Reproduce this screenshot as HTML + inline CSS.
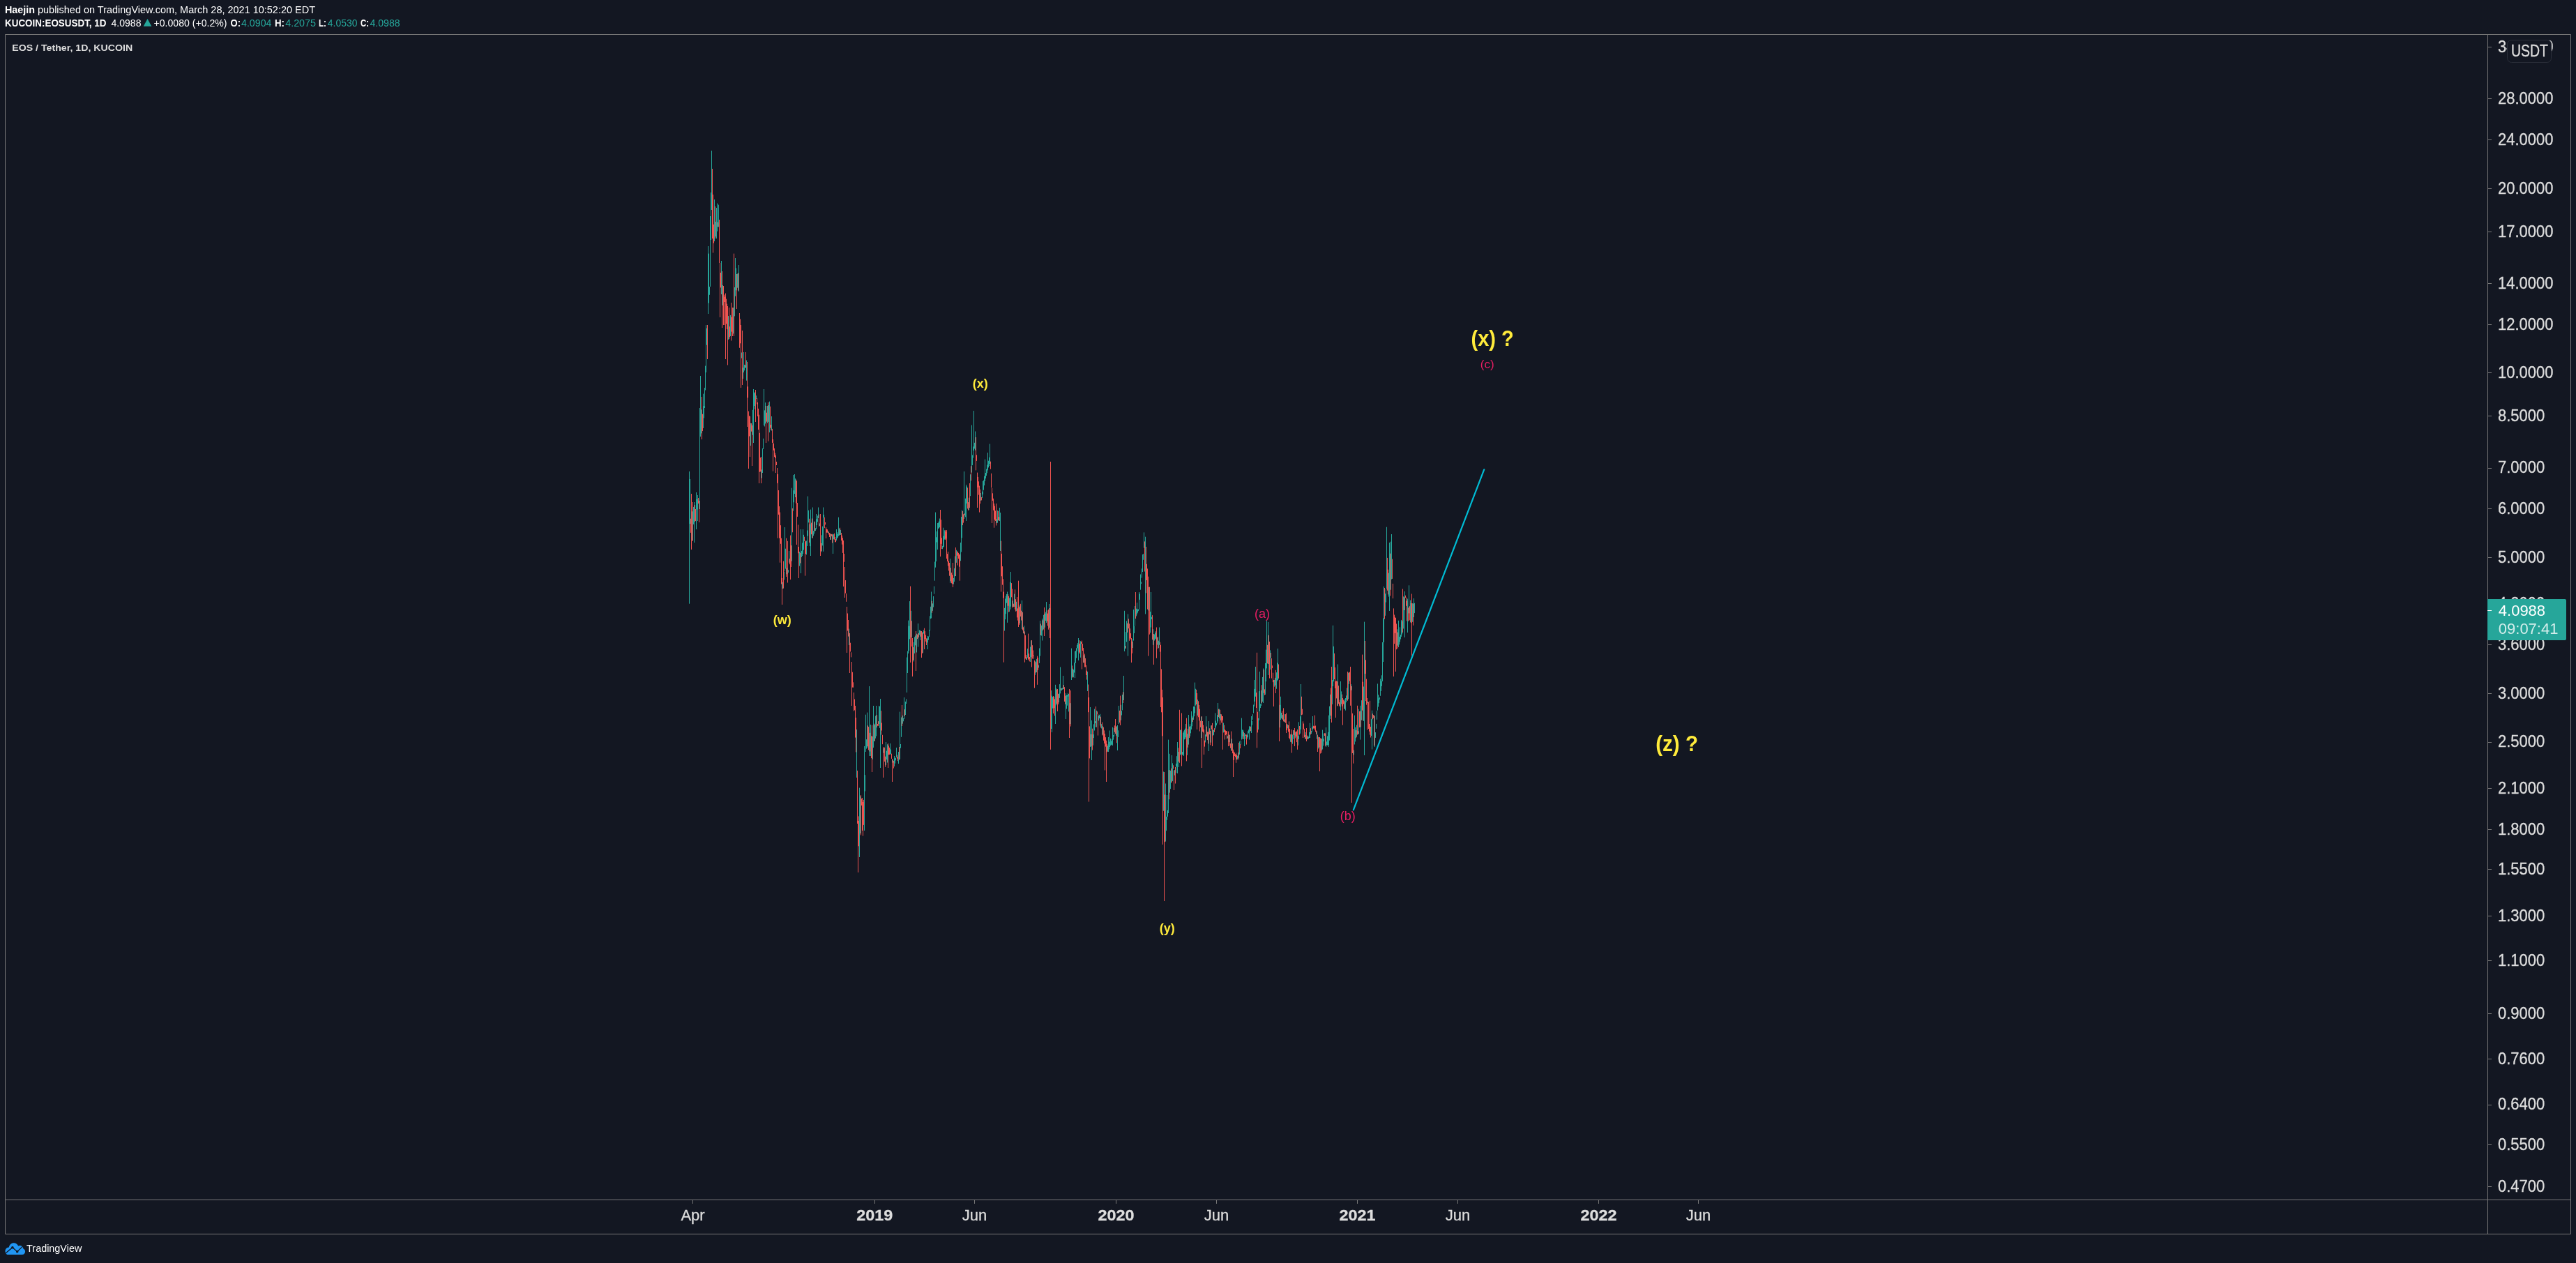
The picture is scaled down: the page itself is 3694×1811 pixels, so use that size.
<!DOCTYPE html>
<html><head><meta charset="utf-8"><style>
html,body{margin:0;padding:0;background:#131722;}
body{width:3694px;height:1811px;overflow:hidden;position:relative;}
svg{position:absolute;left:0;top:0;will-change:transform;}
text{font-family:"Liberation Sans",sans-serif;}
.ax{font-size:22px;fill:#dddddd;stroke:#dddddd;stroke-width:0.3px;}
.tx{font-size:22px;fill:#dddddd;stroke:#dddddd;stroke-width:0.3px;}
.b{font-weight:bold;}
.hd{font-size:14px;fill:#ffffff;}
</style></head><body>
<svg width="3694" height="1811" viewBox="0 0 3694 1811">
<rect width="3694" height="1811" fill="#131722"/>
<!-- frame -->
<path d="M7.5 49.5H3686.5V1769.5H7.5Z" stroke="#787878" stroke-width="1" fill="none"/>
<path d="M3567.5 50V1769" stroke="#787878" stroke-width="1"/>
<path d="M8 1720.5H3686" stroke="#787878" stroke-width="1"/>
<!-- header -->
<text x="7" y="19" class="hd" font-weight="bold" textLength="43" lengthAdjust="spacingAndGlyphs">Haejin</text>
<text x="54" y="19" class="hd" textLength="398" lengthAdjust="spacingAndGlyphs">published on TradingView.com, March 28, 2021 10:52:20 EDT</text>
<text x="7" y="38" class="hd" font-weight="bold" textLength="145.5" lengthAdjust="spacingAndGlyphs">KUCOIN:EOSUSDT, 1D</text>
<text x="159.5" y="38" class="hd" textLength="43" lengthAdjust="spacingAndGlyphs">4.0988</text>
<path d="M205.7 37.7L211.5 27L217.4 37.7Z" fill="#26a69a"/>
<text x="220.5" y="38" class="hd" textLength="105" lengthAdjust="spacingAndGlyphs">+0.0080 (+0.2%)</text>
<text x="330.5" y="38" class="hd" font-weight="bold" textLength="14.5" lengthAdjust="spacingAndGlyphs">O:</text><text x="346" y="38" class="hd" style="fill:#26a69a" textLength="43.5" lengthAdjust="spacingAndGlyphs">4.0904</text>
<text x="394" y="38" class="hd" font-weight="bold" textLength="14" lengthAdjust="spacingAndGlyphs">H:</text><text x="409.2" y="38" class="hd" style="fill:#26a69a" textLength="43.8" lengthAdjust="spacingAndGlyphs">4.2075</text>
<text x="457" y="38" class="hd" font-weight="bold" textLength="11" lengthAdjust="spacingAndGlyphs">L:</text><text x="469.8" y="38" class="hd" style="fill:#26a69a" textLength="42.7" lengthAdjust="spacingAndGlyphs">4.0530</text>
<text x="517" y="38" class="hd" font-weight="bold" textLength="12" lengthAdjust="spacingAndGlyphs">C:</text><text x="530.4" y="38" class="hd" style="fill:#26a69a" textLength="43.3" lengthAdjust="spacingAndGlyphs">4.0988</text>
<text x="17.2" y="72.7" font-size="13.5px" font-weight="bold" fill="#dddddd" textLength="173" lengthAdjust="spacingAndGlyphs">EOS / Tether, 1D, KUCOIN</text>
<!-- candles -->
<path d="M988.5 676.0V865.7M989.5 687.0V751.0M992.5 733.3V775.0M994.5 726.9V751.9M995.5 720.0V778.0M998.5 706.0V759.0M999.5 716.0V730.5M1000.5 710.0V747.0M1003.5 585.0V730.0M1004.5 539.0V626.0M1005.5 587.3V621.4M1008.5 564.6V614.0M1009.5 582.2V599.5M1010.5 556.0V585.0M1011.5 524.6V559.5M1012.5 466.0V534.0M1013.5 470.7V494.7M1015.5 353.0V450.0M1016.5 363.6V434.6M1017.5 411.1V422.8M1018.5 310.0V411.0M1019.5 276.0V344.0M1020.5 216.0V301.0M1024.5 286.0V346.0M1026.5 317.9V339.2M1027.5 298.0V342.0M1028.5 291.6V331.7M1030.5 293.6V325.5M1034.5 374.0V422.0M1036.5 408.9V437.9M1044.5 453.1V487.0M1047.5 451.9V482.1M1051.5 441.1V478.4M1053.5 412.0V453.4M1054.5 370.0V424.7M1055.5 384.4V416.3M1057.5 392.5V412.7M1059.5 380.0V418.0M1063.5 505.5V513.6M1065.5 527.2V543.0M1066.5 505.0V534.0M1067.5 522.9V531.3M1068.5 523.5V527.3M1070.5 516.6V545.7M1076.5 606.8V639.1M1079.5 587.7V623.7M1080.5 558.0V635.0M1081.5 563.5V582.0M1082.5 562.3V586.9M1084.5 567.2V571.8M1092.5 673.4V685.5M1093.5 643.0V678.0M1094.5 628.8V644.0M1095.5 558.0V610.0M1096.5 588.4V611.5M1097.5 577.2V607.4M1100.5 581.9V606.6M1102.5 581.1V604.9M1103.5 575.7V620.0M1106.5 597.0V617.5M1122.5 834.8V844.1M1124.5 819.5V831.4M1125.5 756.0V819.0M1126.5 786.7V815.5M1128.5 814.5V823.3M1130.5 817.2V821.1M1131.5 790.0V806.7M1135.5 699.7V804.6M1137.5 681.0V732.6M1138.5 703.2V720.3M1139.5 680.0V708.0M1140.5 686.1V713.0M1146.5 791.0V811.6M1148.5 759.0V822.0M1149.5 789.9V799.0M1150.5 778.3V797.1M1151.5 759.0V794.0M1152.5 766.8V788.6M1156.5 775.5V795.3M1157.5 760.5V782.9M1158.5 711.6V768.6M1159.5 731.7V749.3M1161.5 751.6V783.1M1162.5 730.6V797.0M1165.5 727.5V771.8M1166.5 761.1V768.2M1167.5 747.5V765.3M1169.5 757.2V761.1M1170.5 737.0V759.0M1171.5 744.2V753.0M1172.5 739.4V748.3M1173.5 727.5V743.0M1175.5 750.5V754.0M1178.5 767.3V791.5M1179.5 754.7V782.3M1180.5 727.5V790.8M1181.5 737.9V742.2M1187.5 761.7V764.1M1191.5 765.9V774.0M1194.5 765.4V794.0M1195.5 766.2V773.3M1199.5 759.0V775.0M1200.5 763.2V772.0M1201.5 765.9V770.7M1202.5 741.7V768.6M1203.5 757.8V767.9M1205.5 759.8V766.9M1217.5 901.6V925.0M1228.5 1046.0V1115.0M1232.5 1129.6V1229.0M1233.5 1141.9V1195.1M1239.5 1070.0V1191.0M1240.5 1111.2V1134.5M1241.5 1024.7V1078.0M1242.5 1060.2V1073.6M1243.5 1021.6V1072.0M1246.5 984.0V1084.0M1248.5 1039.0V1084.0M1251.5 1055.8V1088.7M1252.5 1012.0V1072.0M1254.5 1039.4V1062.9M1255.5 1026.5V1058.8M1256.5 1012.0V1055.6M1260.5 1012.0V1038.0M1261.5 1012.9V1043.9M1262.5 1002.0V1101.0M1267.5 1072.9V1079.7M1270.5 1064.0V1097.0M1271.5 1076.6V1089.1M1272.5 1067.3V1093.5M1276.5 1066.0V1082.0M1277.5 1074.5V1081.2M1280.5 1089.5V1093.6M1282.5 1084.0V1099.0M1283.5 1087.1V1094.7M1284.5 1086.4V1090.3M1285.5 1072.0V1086.0M1288.5 1078.0V1095.0M1290.5 1020.6V1088.5M1291.5 1067.0V1072.7M1292.5 1028.6V1056.8M1294.5 1025.9V1037.7M1295.5 1030.0V1034.3M1296.5 1000.0V1031.0M1298.5 1006.0V1025.0M1299.5 1002.4V1009.0M1300.5 942.6V993.0M1301.5 933.6V965.0M1302.5 889.6V937.0M1303.5 897.7V933.3M1304.5 862.1V916.4M1306.5 875.8V913.7M1310.5 920.8V948.6M1311.5 913.4V936.9M1312.5 911.4V925.4M1314.5 908.7V935.5M1316.5 894.0V927.6M1318.5 903.5V910.4M1319.5 903.8V917.9M1323.5 905.9V936.0M1324.5 903.5V908.6M1329.5 915.4V921.4M1330.5 912.0V931.0M1331.5 912.5V917.7M1332.5 903.2V913.2M1333.5 883.3V904.3M1334.5 869.8V887.1M1335.5 848.5V886.5M1337.5 865.3V875.9M1338.5 855.0V870.6M1339.5 840.6V851.6M1340.5 805.5V832.7M1341.5 734.6V813.7M1342.5 770.3V805.0M1343.5 762.0V777.5M1344.5 750.0V788.0M1345.5 749.5V758.0M1346.5 747.5V757.4M1347.5 743.5V756.1M1351.5 782.8V787.2M1352.5 756.7V785.0M1353.5 768.5V784.1M1354.5 760.3V773.6M1362.5 801.0V836.0M1367.5 828.8V837.6M1368.5 814.9V834.0M1369.5 797.5V826.3M1371.5 788.7V806.8M1377.5 778.0V804.2M1378.5 741.0V791.5M1379.5 731.3V771.3M1382.5 676.0V744.0M1384.5 714.7V741.4M1385.5 695.0V747.0M1386.5 697.5V721.8M1389.5 713.7V731.4M1391.5 680.2V711.2M1393.5 609.6V677.6M1394.5 652.5V667.1M1395.5 640.4V656.5M1396.5 589.0V646.0M1397.5 634.8V643.4M1398.5 618.5V645.7M1406.5 707.0V717.8M1408.5 704.7V714.1M1409.5 690.0V709.0M1410.5 688.7V702.7M1411.5 682.7V696.1M1412.5 658.6V690.0M1413.5 678.0V686.1M1414.5 672.6V682.2M1415.5 666.5V678.3M1416.5 649.0V674.4M1417.5 660.7V670.4M1418.5 655.8V668.1M1419.5 636.5V665.0M1429.5 744.2V750.2M1430.5 732.0V749.7M1433.5 728.0V747.0M1434.5 735.0V790.0M1440.5 871.8V904.5M1441.5 858.5V888.1M1442.5 854.6V880.2M1443.5 851.9V864.7M1444.5 848.5V892.8M1447.5 857.4V877.1M1448.5 834.7V869.7M1449.5 820.0V873.8M1452.5 861.4V869.9M1454.5 851.6V870.0M1457.5 862.8V876.2M1462.5 868.2V893.9M1465.5 861.0V902.0M1468.5 897.2V908.9M1472.5 942.4V946.0M1473.5 930.1V943.2M1477.5 927.5V949.0M1478.5 918.4V942.2M1484.5 948.3V967.8M1486.5 944.9V964.0M1489.5 953.7V957.5M1490.5 929.5V950.9M1491.5 890.0V940.6M1493.5 896.8V911.5M1494.5 887.0V918.5M1496.5 881.8V902.5M1498.5 879.9V899.8M1499.5 877.7V890.0M1500.5 863.0V893.0M1504.5 866.0V900.0M1507.5 990.0V1045.0M1508.5 997.6V1050.0M1509.5 999.3V1015.7M1513.5 981.8V1038.0M1514.5 987.1V1011.3M1518.5 994.4V1007.2M1519.5 981.1V1000.8M1520.5 956.5V994.4M1522.5 986.8V990.3M1523.5 986.3V988.9M1524.5 969.0V988.0M1528.5 994.0V1031.0M1529.5 996.6V1016.4M1530.5 996.6V1011.7M1531.5 993.8V998.6M1532.5 995.0V1020.4M1534.5 1008.2V1038.2M1536.5 929.6V975.0M1538.5 958.7V970.6M1539.5 960.2V971.3M1540.5 950.1V964.5M1541.5 934.0V972.0M1542.5 933.1V950.8M1543.5 929.3V943.5M1544.5 924.7V933.8M1545.5 922.1V929.5M1546.5 915.0V947.0M1549.5 919.3V942.9M1554.5 939.6V950.4M1559.5 963.0V991.0M1563.5 1014.0V1071.0M1565.5 1033.0V1090.0M1567.5 1053.1V1068.8M1568.5 1038.4V1058.1M1569.5 1016.6V1047.5M1570.5 1034.1V1037.1M1572.5 1018.9V1042.7M1575.5 1026.1V1033.4M1576.5 1025.2V1030.1M1577.5 1023.8V1040.4M1579.5 1038.2V1044.5M1581.5 1041.3V1053.5M1588.5 1069.3V1077.7M1589.5 1057.0V1078.0M1590.5 1063.6V1074.3M1591.5 1047.5V1071.0M1592.5 1058.9V1069.2M1593.5 1062.5V1068.4M1594.5 1059.7V1067.7M1595.5 1042.8V1069.0M1596.5 1054.0V1060.7M1597.5 1043.8V1056.2M1600.5 1041.3V1054.8M1602.5 1040.0V1076.0M1603.5 1047.3V1057.0M1604.5 1012.0V1038.0M1607.5 1010.7V1032.8M1608.5 1019.2V1025.6M1609.5 996.0V1018.4M1611.5 969.0V1004.0M1612.5 875.8V934.0M1614.5 906.2V930.2M1615.5 890.3V920.4M1617.5 880.5V940.6M1624.5 916.6V929.0M1625.5 874.0V918.5M1626.5 897.7V908.0M1627.5 869.0V897.5M1629.5 872.7V883.5M1630.5 864.2V881.0M1631.5 873.7V878.6M1632.5 873.5V876.2M1633.5 849.0V874.0M1634.5 851.4V859.9M1635.5 823.5V845.7M1636.5 834.3V837.1M1637.5 815.3V828.6M1638.5 795.0V820.0M1639.5 794.2V802.8M1640.5 763.4V785.6M1642.5 769.7V880.5M1647.5 841.8V875.4M1649.5 877.1V907.4M1650.5 849.0V899.5M1651.5 884.7V888.0M1653.5 902.2V924.8M1655.5 909.5V918.5M1656.5 907.3V915.7M1657.5 905.1V916.8M1659.5 914.1V924.6M1661.5 918.7V929.1M1662.5 899.5V924.8M1668.5 1106.5V1162.8M1671.5 1123.5V1206.6M1672.5 1171.0V1191.2M1673.5 1140.0V1175.8M1674.5 1161.9V1170.9M1675.5 1060.6V1166.0M1677.5 1080.8V1136.6M1678.5 1104.9V1131.2M1680.5 1083.0V1121.0M1681.5 1094.4V1120.0M1684.5 1104.1V1111.7M1686.5 1094.9V1108.2M1687.5 1084.2V1099.4M1688.5 1064.0V1109.0M1690.5 1078.0V1100.0M1692.5 1046.9V1082.7M1693.5 1046.3V1081.5M1695.5 1078.1V1082.4M1696.5 1050.7V1082.4M1697.5 1048.6V1084.0M1698.5 1046.6V1060.3M1699.5 1044.6V1059.8M1700.5 1038.0V1057.3M1702.5 1052.2V1082.8M1704.5 1025.0V1067.6M1706.5 1038.3V1055.8M1707.5 1041.4V1051.4M1708.5 1020.0V1046.0M1709.5 1026.5V1041.3M1711.5 1013.0V1032.0M1712.5 1013.3V1027.2M1713.5 978.6V1022.5M1714.5 987.7V1011.6M1717.5 1003.2V1026.0M1722.5 1027.7V1058.0M1728.5 1053.2V1064.5M1729.5 1027.0V1055.8M1733.5 1034.0V1077.0M1736.5 1040.3V1064.7M1739.5 1046.3V1054.8M1740.5 1046.9V1053.9M1742.5 1022.5V1046.0M1743.5 1033.4V1043.1M1744.5 1036.7V1040.2M1745.5 1025.1V1037.3M1746.5 1008.0V1034.4M1748.5 1016.6V1030.2M1750.5 1023.9V1033.1M1754.5 1036.5V1050.4M1760.5 1055.4V1058.6M1762.5 1053.5V1064.1M1766.5 1059.4V1076.0M1774.5 1083.6V1089.0M1775.5 1078.9V1086.7M1777.5 1063.2V1081.9M1779.5 1061.9V1067.6M1780.5 1029.6V1060.5M1781.5 1046.4V1059.7M1782.5 1046.7V1055.8M1784.5 1051.0V1070.0M1785.5 1053.5V1059.9M1788.5 1053.5V1059.2M1789.5 1048.3V1057.1M1790.5 1046.2V1051.5M1791.5 1041.5V1060.5M1792.5 1041.0V1049.1M1794.5 1027.0V1051.0M1795.5 1033.8V1039.7M1796.5 1024.2V1032.0M1797.5 1010.5V1022.5M1798.5 975.0V1013.0M1799.5 987.9V1005.9M1800.5 956.0V998.8M1804.5 1029.8V1046.2M1805.5 991.1V1032.9M1806.5 963.0V1020.0M1807.5 1009.3V1015.1M1808.5 990.0V1012.1M1810.5 970.9V1006.2M1811.5 958.4V1008.0M1814.5 951.0V996.0M1815.5 931.6V977.2M1816.5 889.5V958.4M1818.5 892.0V968.0M1821.5 932.4V960.1M1827.5 974.9V984.7M1828.5 971.9V982.6M1830.5 964.2V987.7M1831.5 950.4V976.7M1832.5 930.0V975.0M1835.5 1010.8V1043.2M1836.5 998.8V1032.0M1837.5 1022.0V1029.8M1839.5 1025.1V1032.0M1842.5 1024.1V1035.6M1846.5 1038.9V1044.3M1850.5 1053.1V1063.8M1853.5 1053.4V1066.7M1854.5 1047.0V1059.7M1857.5 1049.9V1058.5M1861.5 1055.2V1068.9M1862.5 1035.3V1059.7M1864.5 1027.2V1051.8M1865.5 981.0V1046.0M1872.5 1049.9V1059.7M1875.5 1054.5V1060.2M1876.5 1056.3V1059.4M1877.5 1050.0V1058.2M1878.5 1036.8V1058.0M1880.5 1048.0V1052.0M1881.5 1041.9V1049.0M1882.5 1027.0V1046.0M1888.5 1048.4V1059.6M1890.5 1056.6V1073.4M1894.5 1059.3V1076.2M1896.5 1046.6V1074.5M1897.5 1059.3V1069.4M1898.5 1051.7V1063.2M1901.5 1043.0V1071.0M1902.5 1063.4V1068.6M1903.5 1055.4V1068.7M1904.5 1049.9V1068.4M1905.5 1025.7V1071.0M1906.5 1012.7V1061.7M1907.5 995.8V1031.0M1910.5 975.1V1010.0M1911.5 896.8V984.0M1912.5 926.8V977.2M1918.5 952.5V1011.8M1922.5 977.0V1018.7M1923.5 991.4V1009.5M1928.5 1002.7V1016.6M1929.5 1001.0V1018.7M1930.5 997.4V1007.1M1931.5 986.4V1003.5M1933.5 964.6V1002.5M1937.5 981.2V989.8M1941.5 1075.7V1082.4M1942.5 1025.7V1067.5M1943.5 1042.9V1063.4M1945.5 1039.6V1056.6M1948.5 1016.6V1052.9M1950.5 1011.8V1060.6M1952.5 1004.2V1032.7M1955.5 984.5V1033.9M1956.5 891.6V1083.0M1961.5 1005.9V1008.1M1966.5 1030.8V1055.2M1967.5 1018.7V1074.5M1971.5 1025.7V1071.0M1972.5 1050.1V1057.9M1973.5 1037.9V1044.8M1974.5 1019.1V1031.8M1975.5 980.4V1018.7M1976.5 996.2V1013.5M1977.5 1001.3V1008.2M1978.5 999.7V1003.0M1979.5 973.4V997.8M1980.5 976.6V990.9M1981.5 968.3V983.9M1982.5 921.0V977.0M1983.5 886.4V949.0M1984.5 841.0V921.0M1986.5 851.2V882.8M1987.5 845.0V863.6M1988.5 755.7V844.5M1991.5 821.6V855.6M1992.5 778.0V876.0M1994.5 776.7V845.7M1995.5 766.0V830.6M2003.5 902.3V925.7M2005.5 889.8V928.0M2006.5 913.0V924.3M2007.5 899.3V920.3M2008.5 910.1V916.6M2009.5 888.9V912.9M2010.5 890.6V909.5M2012.5 855.3V901.4M2014.5 848.0V914.0M2018.5 858.5V907.0M2020.5 839.3V879.4M2022.5 860.7V892.3M2025.5 865.1V891.8M2027.5 858.0V885.0M2028.5 864.8V879.1" stroke="#26a69a" stroke-width="1" fill="none"/><path d="M990.5 743.7V763.9M991.5 708.0V788.0M993.5 720.0V776.0M996.5 724.2V748.1M997.5 730.0V747.0M1001.5 714.0V722.0M1002.5 718.0V749.0M1006.5 569.0V630.0M1007.5 593.7V618.1M1014.5 466.0V515.0M1021.5 242.0V342.0M1022.5 279.0V362.5M1023.5 321.8V348.6M1025.5 296.0V342.0M1029.5 318.6V325.1M1031.5 315.0V377.0M1032.5 377.0V455.0M1033.5 391.0V412.4M1035.5 389.0V470.0M1037.5 410.0V466.0M1038.5 422.6V466.0M1039.5 425.5V433.0M1040.5 420.6V515.0M1041.5 428.6V464.4M1042.5 435.6V472.1M1043.5 439.0V523.5M1045.5 441.0V486.0M1046.5 468.2V483.3M1048.5 434.0V488.5M1049.5 454.7V475.6M1050.5 441.0V482.0M1052.5 363.6V482.0M1056.5 393.0V443.0M1058.5 391.5V416.6M1060.5 449.0V498.8M1061.5 457.5V492.3M1062.5 466.0V556.0M1064.5 474.0V552.0M1069.5 505.0V527.6M1071.5 519.0V612.0M1072.5 554.3V570.3M1073.5 589.6V672.0M1074.5 596.2V625.5M1075.5 597.0V655.0M1077.5 607.0V618.7M1078.5 610.0V668.0M1083.5 559.0V605.0M1085.5 571.0V579.6M1086.5 577.0V597.0M1087.5 585.9V616.1M1088.5 594.7V693.0M1089.5 620.8V676.7M1090.5 656.1V676.3M1091.5 655.0V693.0M1098.5 582.0V635.0M1099.5 591.7V604.6M1101.5 577.0V632.7M1104.5 582.8V613.5M1105.5 609.0V616.7M1107.5 614.9V634.9M1108.5 630.0V675.7M1109.5 635.8V645.8M1110.5 642.9V655.0M1111.5 649.6V656.8M1112.5 653.0V678.0M1113.5 662.0V667.0M1114.5 671.0V692.8M1115.5 680.0V771.7M1116.5 703.0V737.9M1117.5 726.0V771.7M1118.5 734.6V806.7M1119.5 753.2V779.8M1120.5 771.7V837.5M1121.5 829.0V867.0M1123.5 804.6V843.7M1127.5 771.7V827.0M1129.5 775.8V835.5M1132.5 801.0V809.2M1133.5 767.6V831.0M1134.5 782.1V813.0M1136.5 728.9V763.3M1141.5 687.6V721.6M1142.5 689.5V781.0M1143.5 721.0V740.9M1144.5 752.5V793.3M1145.5 784.0V829.0M1147.5 792.7V807.5M1153.5 769.7V775.8M1154.5 775.0V825.6M1155.5 776.3V794.4M1160.5 743.8V778.0M1163.5 749.6V766.2M1164.5 743.5V771.5M1168.5 748.3V761.5M1174.5 737.6V755.0M1176.5 737.0V797.0M1177.5 778.9V790.2M1182.5 741.8V757.2M1183.5 748.9V752.3M1184.5 756.0V772.0M1185.5 758.5V763.7M1186.5 759.2V763.7M1188.5 762.4V766.5M1189.5 764.0V770.0M1190.5 764.9V773.8M1192.5 765.9V769.1M1193.5 766.3V778.5M1196.5 764.8V773.7M1197.5 770.0V777.5M1198.5 773.1V777.2M1204.5 756.7V767.0M1206.5 764.0V775.0M1207.5 767.7V780.7M1208.5 771.3V792.9M1209.5 775.0V841.0M1210.5 794.0V805.7M1211.5 813.0V857.0M1212.5 832.0V850.7M1213.5 851.0V862.8M1214.5 870.0V936.0M1215.5 879.5V904.4M1216.5 889.0V912.6M1218.5 908.0V965.0M1219.5 921.7V934.4M1220.5 935.3V942.4M1221.5 949.0V1012.0M1222.5 963.7V985.7M1223.5 978.3V985.8M1224.5 993.0V1019.5M1225.5 1002.5V1018.4M1226.5 1012.0V1057.6M1227.5 1029.0V1078.5M1229.5 1105.0V1181.0M1230.5 1177.0V1251.0M1231.5 1170.4V1213.3M1234.5 1140.0V1197.5M1235.5 1145.0V1155.0M1236.5 1144.0V1191.0M1237.5 1150.0V1198.6M1238.5 1146.9V1182.9M1244.5 1040.3V1070.2M1245.5 1042.1V1075.4M1247.5 1050.8V1077.5M1249.5 1055.4V1087.1M1250.5 1040.0V1107.0M1253.5 1037.7V1062.8M1257.5 1025.2V1043.2M1258.5 1038.0V1040.8M1259.5 1034.2V1040.8M1263.5 1019.2V1053.6M1264.5 1036.5V1047.5M1265.5 1053.8V1067.2M1266.5 1071.0V1115.0M1268.5 1071.7V1092.1M1269.5 1084.7V1099.7M1273.5 1066.0V1101.0M1274.5 1069.3V1082.2M1275.5 1071.9V1082.0M1278.5 1080.7V1087.9M1279.5 1088.0V1121.0M1281.5 1090.9V1101.7M1286.5 1082.4V1087.7M1287.5 1085.7V1091.2M1289.5 1071.0V1089.6M1293.5 1011.0V1041.0M1297.5 1017.2V1026.7M1305.5 840.6V950.0M1307.5 890.2V927.0M1308.5 915.0V970.0M1309.5 928.1V946.7M1313.5 905.0V962.0M1315.5 909.7V916.2M1317.5 907.9V914.1M1320.5 904.9V912.8M1321.5 905.0V943.0M1322.5 907.0V937.0M1325.5 900.7V931.0M1326.5 905.1V916.0M1327.5 910.5V919.8M1328.5 915.4V925.0M1336.5 861.8V878.7M1348.5 731.0V798.0M1349.5 745.3V779.8M1350.5 771.3V787.1M1355.5 760.1V774.1M1356.5 762.2V772.4M1357.5 760.0V801.0M1358.5 794.1V805.1M1359.5 791.0V811.4M1360.5 804.4V818.4M1361.5 807.0V825.7M1363.5 814.1V833.5M1364.5 821.1V836.3M1365.5 824.4V837.4M1366.5 807.0V842.0M1370.5 785.0V826.0M1372.5 790.3V796.7M1373.5 791.5V810.6M1374.5 792.8V801.1M1375.5 795.1V812.7M1376.5 794.7V832.7M1380.5 732.9V753.1M1381.5 737.3V749.6M1383.5 736.4V738.9M1387.5 699.3V729.3M1388.5 720.1V731.8M1390.5 693.0V728.0M1392.5 668.3V689.3M1399.5 627.0V674.4M1400.5 652.3V660.9M1401.5 677.6V728.0M1402.5 683.9V698.8M1403.5 690.3V709.6M1404.5 696.6V734.6M1405.5 701.8V722.2M1407.5 712.9V717.4M1420.5 661.7V672.7M1421.5 678.8V699.4M1422.5 700.0V750.0M1423.5 707.3V717.9M1424.5 714.8V731.7M1425.5 722.0V756.7M1426.5 725.5V745.2M1427.5 732.3V747.0M1428.5 722.0V753.5M1431.5 732.8V746.0M1432.5 741.2V746.9M1435.5 775.7V848.5M1436.5 793.9V826.3M1437.5 812.1V838.6M1438.5 830.3V857.5M1439.5 848.5V949.7M1445.5 852.1V868.7M1446.5 854.8V877.7M1450.5 836.1V856.3M1451.5 844.5V871.3M1453.5 865.7V870.3M1455.5 845.3V873.8M1456.5 859.2V876.7M1458.5 856.0V885.4M1459.5 872.4V889.7M1460.5 832.7V899.0M1461.5 870.3V896.0M1463.5 865.8V884.0M1464.5 875.7V889.6M1466.5 877.8V903.6M1467.5 899.3V908.1M1469.5 905.4V949.7M1470.5 910.9V944.4M1471.5 939.0V946.0M1474.5 908.6V946.6M1475.5 937.2V945.1M1476.5 942.0V948.4M1479.5 918.0V956.5M1480.5 925.2V944.5M1481.5 932.5V941.0M1482.5 939.8V944.7M1483.5 947.0V986.5M1485.5 949.4V964.5M1487.5 940.6V981.8M1488.5 943.0V960.8M1492.5 894.4V910.9M1495.5 889.4V904.0M1497.5 871.0V912.0M1501.5 875.2V890.6M1502.5 879.6V897.3M1503.5 874.0V902.7M1505.5 872.0V915.0M1506.5 662.0V1074.8M1510.5 998.0V1023.1M1511.5 999.1V1015.4M1512.5 1002.4V1026.4M1515.5 988.6V1009.0M1516.5 988.0V1020.0M1517.5 995.0V1010.1M1521.5 986.9V989.5M1525.5 982.1V988.3M1526.5 985.2V1006.0M1527.5 997.6V1009.8M1533.5 988.0V1058.0M1535.5 990.0V1041.6M1537.5 954.4V971.7M1547.5 918.1V935.5M1548.5 922.9V937.4M1550.5 920.3V923.2M1551.5 918.5V959.6M1552.5 923.2V933.0M1553.5 929.1V950.3M1555.5 937.5V956.5M1556.5 943.9V956.5M1557.5 953.9V967.9M1558.5 961.6V974.6M1560.5 981.5V1021.2M1561.5 1000.0V1149.6M1562.5 1041.4V1087.4M1564.5 1052.8V1070.2M1566.5 1044.7V1075.6M1571.5 1013.0V1042.8M1573.5 1020.2V1024.1M1574.5 1023.8V1054.6M1578.5 1027.7V1043.4M1580.5 1035.6V1054.6M1582.5 1042.8V1061.8M1583.5 1047.4V1066.1M1584.5 1052.0V1104.5M1585.5 1057.2V1070.6M1586.5 1061.8V1121.0M1587.5 1066.8V1078.3M1598.5 1040.3V1049.7M1599.5 1031.0V1052.0M1601.5 1041.6V1065.3M1605.5 1018.9V1036.1M1606.5 997.6V1040.0M1610.5 992.3V1008.0M1613.5 926.1V929.7M1616.5 893.8V906.9M1618.5 887.4V901.2M1619.5 894.3V918.8M1620.5 901.2V915.4M1621.5 908.1V916.9M1622.5 915.0V950.0M1623.5 919.8V936.8M1628.5 849.0V887.0M1641.5 776.4V819.5M1643.5 784.0V850.4M1644.5 808.8V832.0M1645.5 815.4V873.7M1646.5 826.7V940.6M1648.5 841.6V909.7M1652.5 882.1V917.2M1654.5 909.0V953.0M1658.5 899.5V943.8M1660.5 912.9V930.3M1663.5 920.8V934.6M1664.5 924.8V1014.0M1665.5 959.4V1021.3M1666.5 988.9V1055.4M1667.5 1000.0V1211.0M1669.5 1107.0V1292.0M1670.5 1139.5V1207.2M1676.5 1104.2V1146.2M1679.5 1101.7V1122.9M1682.5 1097.3V1102.4M1683.5 1104.5V1133.0M1685.5 1100.0V1123.5M1689.5 1072.4V1092.0M1691.5 1017.8V1093.8M1694.5 1022.5V1098.5M1701.5 1029.6V1091.4M1703.5 1044.9V1071.8M1705.5 1041.7V1058.0M1710.5 1028.9V1035.1M1715.5 988.9V1010.0M1716.5 994.0V1046.0M1718.5 1005.3V1028.3M1719.5 1011.0V1033.3M1720.5 1016.6V1048.6M1721.5 1033.6V1042.9M1723.5 1027.0V1101.0M1724.5 1034.0V1049.2M1725.5 1039.7V1050.4M1726.5 1046.0V1082.0M1727.5 1061.7V1070.6M1730.5 1041.7V1056.4M1731.5 1049.4V1061.1M1732.5 1049.3V1066.4M1734.5 1044.3V1053.1M1735.5 1048.0V1068.4M1737.5 1040.1V1045.8M1738.5 1036.8V1070.0M1741.5 1044.2V1049.7M1747.5 1016.7V1028.1M1749.5 1017.8V1039.0M1751.5 1024.3V1036.4M1752.5 1026.9V1032.8M1753.5 1027.0V1074.8M1755.5 1039.7V1049.8M1756.5 1046.0V1060.5M1757.5 1047.4V1054.2M1758.5 1048.0V1053.1M1759.5 1048.5V1059.6M1761.5 1048.6V1070.0M1763.5 1053.7V1069.4M1764.5 1066.1V1072.7M1765.5 1048.6V1077.0M1767.5 1066.1V1080.2M1768.5 1074.8V1114.0M1769.5 1077.7V1089.8M1770.5 1079.1V1084.0M1771.5 1081.3V1085.5M1772.5 1079.5V1093.8M1773.5 1082.1V1089.2M1776.5 1065.0V1089.0M1778.5 1067.2V1073.1M1783.5 1049.3V1059.9M1786.5 1053.1V1055.1M1787.5 1053.4V1067.6M1793.5 1042.0V1048.2M1801.5 993.1V1015.0M1802.5 935.8V1072.4M1803.5 1020.7V1050.4M1809.5 982.2V1007.9M1812.5 960.2V993.7M1813.5 988.4V996.8M1817.5 924.8V951.4M1819.5 910.8V952.1M1820.5 920.0V972.6M1822.5 936.0V943.2M1823.5 944.0V972.6M1824.5 954.3V958.1M1825.5 964.7V978.2M1826.5 975.0V1013.0M1829.5 960.8V994.0M1833.5 952.5V972.9M1834.5 975.0V1063.0M1838.5 1019.4V1031.0M1840.5 1015.4V1034.4M1841.5 1031.5V1034.9M1843.5 1024.1V1036.6M1844.5 1022.5V1051.0M1845.5 1038.1V1047.1M1847.5 1040.0V1049.3M1848.5 1034.4V1058.0M1849.5 1045.0V1060.1M1851.5 1052.9V1064.4M1852.5 1046.0V1079.5M1855.5 1047.2V1053.9M1856.5 1044.0V1070.0M1858.5 1048.2V1056.2M1859.5 1049.0V1064.1M1860.5 1046.0V1074.8M1863.5 1041.0V1053.4M1866.5 998.8V1025.2M1867.5 1016.6V1024.6M1868.5 1034.4V1058.0M1869.5 1037.5V1045.8M1870.5 1044.9V1057.2M1871.5 1053.8V1059.6M1873.5 1044.0V1063.0M1874.5 1055.8V1059.8M1879.5 1044.2V1053.2M1883.5 1040.7V1044.6M1884.5 1041.2V1044.4M1885.5 1025.7V1046.6M1886.5 1040.5V1049.4M1887.5 1047.4V1053.0M1889.5 1053.6V1078.0M1891.5 1057.3V1071.6M1892.5 1057.0V1106.0M1893.5 1058.4V1080.5M1895.5 1059.1V1079.6M1899.5 1051.2V1055.0M1900.5 1051.4V1069.5M1908.5 986.5V1026.2M1909.5 956.0V1036.0M1913.5 936.9V974.0M1914.5 957.0V987.0M1915.5 977.0V1029.0M1916.5 976.3V1001.4M1917.5 977.1V1012.5M1919.5 983.2V1009.0M1920.5 1007.1V1011.8M1921.5 1003.6V1013.5M1924.5 995.7V1012.8M1925.5 1001.0V1039.7M1926.5 1003.4V1009.6M1927.5 1005.4V1016.5M1932.5 963.0V1004.8M1934.5 964.3V980.8M1935.5 963.6V976.6M1936.5 956.0V1011.8M1938.5 984.0V1151.0M1939.5 1022.9V1080.0M1940.5 1045.2V1094.7M1944.5 1047.1V1058.3M1946.5 1011.8V1053.6M1947.5 1048.3V1052.2M1949.5 1020.0V1043.1M1951.5 1019.6V1042.6M1953.5 938.6V1018.7M1954.5 977.7V1033.2M1957.5 919.0V966.0M1958.5 946.3V1005.3M1959.5 973.6V1010.6M1960.5 1001.0V1046.6M1962.5 1006.6V1045.0M1963.5 1038.0V1048.8M1964.5 1004.8V1053.6M1965.5 1042.1V1057.5M1968.5 1023.3V1031.3M1969.5 1025.0V1029.6M1970.5 1026.7V1069.2M1985.5 843.0V887.7M1989.5 799.9V846.8M1990.5 816.7V852.4M1993.5 793.7V854.4M1996.5 801.5V829.9M1997.5 836.9V858.1M1998.5 872.4V970.0M1999.5 881.5V923.1M2000.5 884.8V907.8M2001.5 886.0V963.0M2002.5 894.4V931.2M2004.5 906.7V929.9M2011.5 844.5V907.0M2013.5 856.3V875.0M2015.5 853.8V857.3M2016.5 856.7V868.8M2017.5 861.5V890.5M2019.5 871.4V890.7M2021.5 869.3V889.4M2023.5 865.0V893.3M2024.5 851.5V940.0M2026.5 865.4V896.8" stroke="#ef5350" stroke-width="1" fill="none"/>
<!-- trend line -->
<path d="M1940.8 1161.4L2128.2 673.3" stroke="#00bcd4" stroke-width="2.2" stroke-linecap="round" fill="none"/>
<!-- labels -->
<text x="1121.75" y="895.2" font-size="18px" font-weight="bold" fill="#ffeb3b" text-anchor="middle">(w)</text>
<text x="1405.7" y="556.1" font-size="18px" font-weight="bold" fill="#ffeb3b" text-anchor="middle">(x)</text>
<text x="1673.7" y="1337.1" font-size="18px" font-weight="bold" fill="#ffeb3b" text-anchor="middle">(y)</text>
<text x="1810" y="886" font-size="18px" fill="#e91e63" text-anchor="middle">(a)</text>
<text x="1932.8" y="1176" font-size="18px" fill="#e91e63" text-anchor="middle">(b)</text>
<text x="2132.75" y="528" font-size="17px" fill="#e91e63" text-anchor="middle">(c)</text>
<text x="2109.6" y="496.3" font-size="32px" font-weight="bold" fill="#ffeb3b" textLength="61.2" lengthAdjust="spacingAndGlyphs">(x) ?</text>
<text x="2374.2" y="1077" font-size="32px" font-weight="bold" fill="#ffeb3b" textLength="60.8" lengthAdjust="spacingAndGlyphs">(z) ?</text>
<!-- axes -->
<path d="M3567 67.5H3573" stroke="#787878" stroke-width="1"/><text transform="translate(3582 75.1) scale(1 1.09)" class="ax">34.0000</text><path d="M3567 141.5H3573" stroke="#787878" stroke-width="1"/><text transform="translate(3582 149.2) scale(1 1.09)" class="ax">28.0000</text><path d="M3567 200.5H3573" stroke="#787878" stroke-width="1"/><text transform="translate(3582 208.1) scale(1 1.09)" class="ax">24.0000</text><path d="M3567 270.5H3573" stroke="#787878" stroke-width="1"/><text transform="translate(3582 277.6) scale(1 1.09)" class="ax">20.0000</text><path d="M3567 332.5H3573" stroke="#787878" stroke-width="1"/><text transform="translate(3582 339.7) scale(1 1.09)" class="ax">17.0000</text><path d="M3567 406.5H3573" stroke="#787878" stroke-width="1"/><text transform="translate(3582 413.8) scale(1 1.09)" class="ax">14.0000</text><path d="M3567 465.5H3573" stroke="#787878" stroke-width="1"/><text transform="translate(3582 472.6) scale(1 1.09)" class="ax">12.0000</text><path d="M3567 534.5H3573" stroke="#787878" stroke-width="1"/><text transform="translate(3582 542.2) scale(1 1.09)" class="ax">10.0000</text><path d="M3567 596.5H3573" stroke="#787878" stroke-width="1"/><text transform="translate(3582 604.2) scale(1 1.09)" class="ax">8.5000</text><path d="M3567 671.5H3573" stroke="#787878" stroke-width="1"/><text transform="translate(3582 678.3) scale(1 1.09)" class="ax">7.0000</text><path d="M3567 729.5H3573" stroke="#787878" stroke-width="1"/><text transform="translate(3582 737.2) scale(1 1.09)" class="ax">6.0000</text><path d="M3567 799.5H3573" stroke="#787878" stroke-width="1"/><text transform="translate(3582 806.8) scale(1 1.09)" class="ax">5.0000</text><path d="M3567 866.5H3573" stroke="#787878" stroke-width="1"/><text transform="translate(3582 873.3) scale(1 1.09)" class="ax">4.2000</text><path d="M3567 924.5H3573" stroke="#787878" stroke-width="1"/><text transform="translate(3582 932.1) scale(1 1.09)" class="ax">3.6000</text><path d="M3567 994.5H3573" stroke="#787878" stroke-width="1"/><text transform="translate(3582 1001.7) scale(1 1.09)" class="ax">3.0000</text><path d="M3567 1064.5H3573" stroke="#787878" stroke-width="1"/><text transform="translate(3582 1071.3) scale(1 1.09)" class="ax">2.5000</text><path d="M3567 1130.5H3573" stroke="#787878" stroke-width="1"/><text transform="translate(3582 1137.9) scale(1 1.09)" class="ax">2.1000</text><path d="M3567 1189.5H3573" stroke="#787878" stroke-width="1"/><text transform="translate(3582 1196.7) scale(1 1.09)" class="ax">1.8000</text><path d="M3567 1246.5H3573" stroke="#787878" stroke-width="1"/><text transform="translate(3582 1253.8) scale(1 1.09)" class="ax">1.5500</text><path d="M3567 1313.5H3573" stroke="#787878" stroke-width="1"/><text transform="translate(3582 1320.9) scale(1 1.09)" class="ax">1.3000</text><path d="M3567 1377.5H3573" stroke="#787878" stroke-width="1"/><text transform="translate(3582 1384.7) scale(1 1.09)" class="ax">1.1000</text><path d="M3567 1453.5H3573" stroke="#787878" stroke-width="1"/><text transform="translate(3582 1461.3) scale(1 1.09)" class="ax">0.9000</text><path d="M3567 1518.5H3573" stroke="#787878" stroke-width="1"/><text transform="translate(3582 1525.8) scale(1 1.09)" class="ax">0.7600</text><path d="M3567 1584.5H3573" stroke="#787878" stroke-width="1"/><text transform="translate(3582 1591.4) scale(1 1.09)" class="ax">0.6400</text><path d="M3567 1641.5H3573" stroke="#787878" stroke-width="1"/><text transform="translate(3582 1649.2) scale(1 1.09)" class="ax">0.5500</text><path d="M3567 1701.5H3573" stroke="#787878" stroke-width="1"/><text transform="translate(3582 1709.2) scale(1 1.09)" class="ax">0.4700</text>
<path d="M993.5 1720V1726" stroke="#787878" stroke-width="1"/><text x="993.5" y="1750" class="tx" text-anchor="middle">Apr</text><path d="M1254.5 1720V1726" stroke="#787878" stroke-width="1"/><text x="1254.3" y="1750" class="tx b" text-anchor="middle" textLength="52" lengthAdjust="spacingAndGlyphs">2019</text><path d="M1397.5 1720V1726" stroke="#787878" stroke-width="1"/><text x="1397.4" y="1750" class="tx" text-anchor="middle">Jun</text><path d="M1600.5 1720V1726" stroke="#787878" stroke-width="1"/><text x="1600.5" y="1750" class="tx b" text-anchor="middle" textLength="52" lengthAdjust="spacingAndGlyphs">2020</text><path d="M1744.5 1720V1726" stroke="#787878" stroke-width="1"/><text x="1744.5" y="1750" class="tx" text-anchor="middle">Jun</text><path d="M1946.5 1720V1726" stroke="#787878" stroke-width="1"/><text x="1946.5" y="1750" class="tx b" text-anchor="middle" textLength="52" lengthAdjust="spacingAndGlyphs">2021</text><path d="M2090.5 1720V1726" stroke="#787878" stroke-width="1"/><text x="2090.4" y="1750" class="tx" text-anchor="middle">Jun</text><path d="M2292.5 1720V1726" stroke="#787878" stroke-width="1"/><text x="2292.4" y="1750" class="tx b" text-anchor="middle" textLength="52" lengthAdjust="spacingAndGlyphs">2022</text><path d="M2435.5 1720V1726" stroke="#787878" stroke-width="1"/><text x="2435.5" y="1750" class="tx" text-anchor="middle">Jun</text>
<!-- USDT badge -->
<rect x="3595.5" y="57.5" width="63" height="32" rx="6" fill="#131722" stroke="#2a2e39" stroke-width="1"/>
<text transform="translate(3601 80.5) scale(1 1.12)" class="ax" textLength="53" lengthAdjust="spacingAndGlyphs">USDT</text>
<!-- last price label -->
<path d="M3567 859H3678a2 2 0 0 1 2 2V916a2 2 0 0 1 -2 2H3567Z" fill="#26a69a"/>
<path d="M3567 875.5H3573" stroke="#ffffff" stroke-width="1"/>
<text x="3582.8" y="882.8" font-size="22px" fill="#ffffff">4.0988</text>
<text x="3582.8" y="908.9" font-size="22px" fill="rgba(255,255,255,0.8)">09:07:41</text>
<!-- logo -->
<g transform="translate(6.8,1781.9)">
<path d="M2 15.5C0.5 14 0.3 11.5 1.2 9.7C2.2 7.8 4 6.8 6 6.7C6.6 3 9.5 0.3 13 0.3C16 0.3 18.2 2 19.3 4.6C20.2 4.2 21.2 4 22.2 4.1C24.6 4.4 26.4 6.3 26.6 8.6C28.4 9.3 29.5 11 29.3 13C29.1 15.3 27.2 17.1 24.9 17.1H4.5C3.5 17.1 2.6 16.5 2 15.5Z" fill="#2196f3"/>
<path d="M1.8 14.5L11.1 6.8L17.9 12.8L25.5 5.5" stroke="#131722" stroke-width="1.3" fill="none"/>
<circle cx="11.1" cy="6.8" r="1.8" fill="#131722"/>
<circle cx="17.9" cy="12.8" r="1.8" fill="#131722"/>
</g>
<text x="38.1" y="1795" font-size="14.4px" fill="#ffffff">TradingView</text>
</svg>
</body></html>
